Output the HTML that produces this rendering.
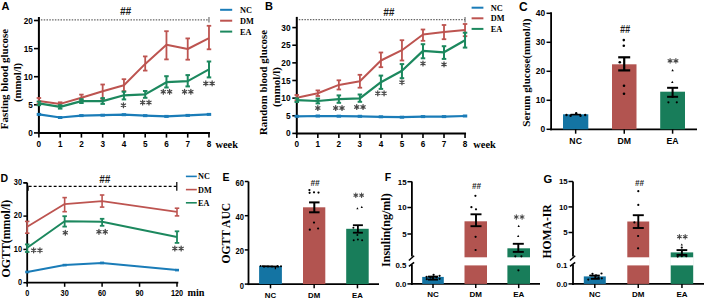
<!DOCTYPE html>
<html><head><meta charset="utf-8"><style>
html,body{margin:0;padding:0;background:#fff;width:704px;height:298px;overflow:hidden}
svg{display:block}
</style></head><body>
<svg width="704" height="298" viewBox="0 0 704 298">
<rect width="704" height="298" fill="#fff"/>
<text x="1.5" y="10" font-family='"Liberation Sans", sans-serif' font-size="11" font-weight="bold" text-anchor="start" fill="#000" >A</text>
<line x1="40.9" y1="19.9" x2="208.98" y2="19.9" stroke="#666" stroke-width="1.2" stroke-dasharray="1.5 1.3"/>
<line x1="208.98" y1="17" x2="208.98" y2="22.5" stroke="#555" stroke-width="1" />
<text x="120.05" y="15.4" font-family='"Liberation Sans", sans-serif' font-size="11.18" font-weight="bold" font-style="italic" fill="#1a1a1a" textLength="11.1" lengthAdjust="spacingAndGlyphs">##</text>
<line x1="38.9" y1="17" x2="38.9" y2="133.9" stroke="#000" stroke-width="2" />
<line x1="37.9" y1="132.9" x2="209.98" y2="132.9" stroke="#000" stroke-width="2" />
<line x1="34" y1="132.9" x2="38.9" y2="132.9" stroke="#000" stroke-width="1.6" />
<text x="32.8" y="135.9" font-family='"Liberation Sans", sans-serif' font-size="8.2" font-weight="bold" text-anchor="end" fill="#000" >0</text>
<line x1="34" y1="104.8" x2="38.9" y2="104.8" stroke="#000" stroke-width="1.6" />
<text x="32.8" y="107.8" font-family='"Liberation Sans", sans-serif' font-size="8.2" font-weight="bold" text-anchor="end" fill="#000" >5</text>
<line x1="34" y1="76.7" x2="38.9" y2="76.7" stroke="#000" stroke-width="1.6" />
<text x="32.8" y="79.7" font-family='"Liberation Sans", sans-serif' font-size="8.2" font-weight="bold" text-anchor="end" fill="#000" >10</text>
<line x1="34" y1="48.6" x2="38.9" y2="48.6" stroke="#000" stroke-width="1.6" />
<text x="32.8" y="51.6" font-family='"Liberation Sans", sans-serif' font-size="8.2" font-weight="bold" text-anchor="end" fill="#000" >15</text>
<line x1="34" y1="20.5" x2="38.9" y2="20.5" stroke="#000" stroke-width="1.6" />
<text x="32.8" y="23.5" font-family='"Liberation Sans", sans-serif' font-size="8.2" font-weight="bold" text-anchor="end" fill="#000" >20</text>
<line x1="38.9" y1="132.9" x2="38.9" y2="137.6" stroke="#000" stroke-width="1.6" />
<text x="38.9" y="147" font-family='"Liberation Sans", sans-serif' font-size="8.2" font-weight="bold" text-anchor="middle" fill="#000" >0</text>
<line x1="60.16" y1="132.9" x2="60.16" y2="137.6" stroke="#000" stroke-width="1.6" />
<text x="60.16" y="147" font-family='"Liberation Sans", sans-serif' font-size="8.2" font-weight="bold" text-anchor="middle" fill="#000" >1</text>
<line x1="81.42" y1="132.9" x2="81.42" y2="137.6" stroke="#000" stroke-width="1.6" />
<text x="81.42" y="147" font-family='"Liberation Sans", sans-serif' font-size="8.2" font-weight="bold" text-anchor="middle" fill="#000" >2</text>
<line x1="102.68" y1="132.9" x2="102.68" y2="137.6" stroke="#000" stroke-width="1.6" />
<text x="102.68" y="147" font-family='"Liberation Sans", sans-serif' font-size="8.2" font-weight="bold" text-anchor="middle" fill="#000" >3</text>
<line x1="123.94" y1="132.9" x2="123.94" y2="137.6" stroke="#000" stroke-width="1.6" />
<text x="123.94" y="147" font-family='"Liberation Sans", sans-serif' font-size="8.2" font-weight="bold" text-anchor="middle" fill="#000" >4</text>
<line x1="145.2" y1="132.9" x2="145.2" y2="137.6" stroke="#000" stroke-width="1.6" />
<text x="145.2" y="147" font-family='"Liberation Sans", sans-serif' font-size="8.2" font-weight="bold" text-anchor="middle" fill="#000" >5</text>
<line x1="166.46" y1="132.9" x2="166.46" y2="137.6" stroke="#000" stroke-width="1.6" />
<text x="166.46" y="147" font-family='"Liberation Sans", sans-serif' font-size="8.2" font-weight="bold" text-anchor="middle" fill="#000" >6</text>
<line x1="187.72" y1="132.9" x2="187.72" y2="137.6" stroke="#000" stroke-width="1.6" />
<text x="187.72" y="147" font-family='"Liberation Sans", sans-serif' font-size="8.2" font-weight="bold" text-anchor="middle" fill="#000" >7</text>
<line x1="208.98" y1="132.9" x2="208.98" y2="137.6" stroke="#000" stroke-width="1.6" />
<text x="208.98" y="147" font-family='"Liberation Sans", sans-serif' font-size="8.2" font-weight="bold" text-anchor="middle" fill="#000" >8</text>
<text x="215.5" y="147.5" font-family='"Liberation Serif", serif' font-size="10.4" font-weight="bold" text-anchor="start" fill="#000" >week</text>
<text transform="translate(4.5,79) rotate(-90)" x="0" y="0" dy="0.35em" font-family='"Liberation Serif", serif' font-size="10.95" font-weight="bold" text-anchor="middle" fill="#000">Fasting blood glucose</text>
<text transform="translate(17.6,82.4) rotate(-90)" x="0" y="0" dy="0.35em" font-family='"Liberation Serif", serif' font-size="10.7" font-weight="bold" text-anchor="middle" fill="#000">(mmol/l)</text>
<polyline points="38.9,101.1 60.16,103.9 81.42,97.8 102.68,91.3 123.94,85.2 145.2,63.9 166.46,44.8 187.72,49 208.98,38.1" fill="none" stroke="#bd5450" stroke-width="2" stroke-linejoin="round"/>
<line x1="38.9" y1="98" x2="38.9" y2="104" stroke="#bd5450" stroke-width="1.8" />
<line x1="36.65" y1="98" x2="41.15" y2="98" stroke="#bd5450" stroke-width="1.8" />
<line x1="36.65" y1="104" x2="41.15" y2="104" stroke="#bd5450" stroke-width="1.8" />
<line x1="60.16" y1="102.3" x2="60.16" y2="105.9" stroke="#bd5450" stroke-width="1.8" />
<line x1="57.91" y1="102.3" x2="62.41" y2="102.3" stroke="#bd5450" stroke-width="1.8" />
<line x1="57.91" y1="105.9" x2="62.41" y2="105.9" stroke="#bd5450" stroke-width="1.8" />
<line x1="81.42" y1="94.6" x2="81.42" y2="100.4" stroke="#bd5450" stroke-width="1.8" />
<line x1="79.17" y1="94.6" x2="83.67" y2="94.6" stroke="#bd5450" stroke-width="1.8" />
<line x1="79.17" y1="100.4" x2="83.67" y2="100.4" stroke="#bd5450" stroke-width="1.8" />
<line x1="102.68" y1="84.5" x2="102.68" y2="98.9" stroke="#bd5450" stroke-width="1.8" />
<line x1="100.43" y1="84.5" x2="104.93" y2="84.5" stroke="#bd5450" stroke-width="1.8" />
<line x1="100.43" y1="98.9" x2="104.93" y2="98.9" stroke="#bd5450" stroke-width="1.8" />
<line x1="123.94" y1="79.2" x2="123.94" y2="91.2" stroke="#bd5450" stroke-width="1.8" />
<line x1="121.69" y1="79.2" x2="126.19" y2="79.2" stroke="#bd5450" stroke-width="1.8" />
<line x1="121.69" y1="91.2" x2="126.19" y2="91.2" stroke="#bd5450" stroke-width="1.8" />
<line x1="145.2" y1="56.4" x2="145.2" y2="70.6" stroke="#bd5450" stroke-width="1.8" />
<line x1="142.95" y1="56.4" x2="147.45" y2="56.4" stroke="#bd5450" stroke-width="1.8" />
<line x1="142.95" y1="70.6" x2="147.45" y2="70.6" stroke="#bd5450" stroke-width="1.8" />
<line x1="166.46" y1="31.2" x2="166.46" y2="59.4" stroke="#bd5450" stroke-width="1.8" />
<line x1="164.21" y1="31.2" x2="168.71" y2="31.2" stroke="#bd5450" stroke-width="1.8" />
<line x1="164.21" y1="59.4" x2="168.71" y2="59.4" stroke="#bd5450" stroke-width="1.8" />
<line x1="187.72" y1="38.4" x2="187.72" y2="59.7" stroke="#bd5450" stroke-width="1.8" />
<line x1="185.47" y1="38.4" x2="189.97" y2="38.4" stroke="#bd5450" stroke-width="1.8" />
<line x1="185.47" y1="59.7" x2="189.97" y2="59.7" stroke="#bd5450" stroke-width="1.8" />
<line x1="208.98" y1="25.8" x2="208.98" y2="49.3" stroke="#bd5450" stroke-width="1.8" />
<line x1="206.73" y1="25.8" x2="211.23" y2="25.8" stroke="#bd5450" stroke-width="1.8" />
<line x1="206.73" y1="49.3" x2="211.23" y2="49.3" stroke="#bd5450" stroke-width="1.8" />
<polyline points="38.9,103.4 60.16,106.9 81.42,101.1 102.68,101.1 123.94,95.3 145.2,94.4 166.46,82.2 187.72,81.1 208.98,69.4" fill="none" stroke="#1c885e" stroke-width="2.2" stroke-linejoin="round"/>
<line x1="38.9" y1="101.6" x2="38.9" y2="105.2" stroke="#1c885e" stroke-width="2" />
<line x1="36.65" y1="101.6" x2="41.15" y2="101.6" stroke="#1c885e" stroke-width="2" />
<line x1="36.65" y1="105.2" x2="41.15" y2="105.2" stroke="#1c885e" stroke-width="2" />
<line x1="60.16" y1="105.2" x2="60.16" y2="108.6" stroke="#1c885e" stroke-width="2" />
<line x1="57.91" y1="105.2" x2="62.41" y2="105.2" stroke="#1c885e" stroke-width="2" />
<line x1="57.91" y1="108.6" x2="62.41" y2="108.6" stroke="#1c885e" stroke-width="2" />
<line x1="81.42" y1="99.2" x2="81.42" y2="103" stroke="#1c885e" stroke-width="2" />
<line x1="79.17" y1="99.2" x2="83.67" y2="99.2" stroke="#1c885e" stroke-width="2" />
<line x1="79.17" y1="103" x2="83.67" y2="103" stroke="#1c885e" stroke-width="2" />
<line x1="102.68" y1="98.1" x2="102.68" y2="103.9" stroke="#1c885e" stroke-width="2" />
<line x1="100.43" y1="98.1" x2="104.93" y2="98.1" stroke="#1c885e" stroke-width="2" />
<line x1="100.43" y1="103.9" x2="104.93" y2="103.9" stroke="#1c885e" stroke-width="2" />
<line x1="123.94" y1="91.7" x2="123.94" y2="99.4" stroke="#1c885e" stroke-width="2" />
<line x1="121.69" y1="91.7" x2="126.19" y2="91.7" stroke="#1c885e" stroke-width="2" />
<line x1="121.69" y1="99.4" x2="126.19" y2="99.4" stroke="#1c885e" stroke-width="2" />
<line x1="145.2" y1="91" x2="145.2" y2="97.8" stroke="#1c885e" stroke-width="2" />
<line x1="142.95" y1="91" x2="147.45" y2="91" stroke="#1c885e" stroke-width="2" />
<line x1="142.95" y1="97.8" x2="147.45" y2="97.8" stroke="#1c885e" stroke-width="2" />
<line x1="166.46" y1="76.2" x2="166.46" y2="87.5" stroke="#1c885e" stroke-width="2" />
<line x1="164.21" y1="76.2" x2="168.71" y2="76.2" stroke="#1c885e" stroke-width="2" />
<line x1="164.21" y1="87.5" x2="168.71" y2="87.5" stroke="#1c885e" stroke-width="2" />
<line x1="187.72" y1="75.1" x2="187.72" y2="86.4" stroke="#1c885e" stroke-width="2" />
<line x1="185.47" y1="75.1" x2="189.97" y2="75.1" stroke="#1c885e" stroke-width="2" />
<line x1="185.47" y1="86.4" x2="189.97" y2="86.4" stroke="#1c885e" stroke-width="2" />
<line x1="208.98" y1="61.5" x2="208.98" y2="77.4" stroke="#1c885e" stroke-width="2" />
<line x1="206.73" y1="61.5" x2="211.23" y2="61.5" stroke="#1c885e" stroke-width="2" />
<line x1="206.73" y1="77.4" x2="211.23" y2="77.4" stroke="#1c885e" stroke-width="2" />
<polyline points="38.9,114.4 60.16,117.5 81.42,115.6 102.68,115.2 123.94,114.7 145.2,115.65 166.46,116.4 187.72,115.4 208.98,114.4" fill="none" stroke="#1a7cb8" stroke-width="2.2" stroke-linejoin="round"/>
<line x1="36.7" y1="114.4" x2="41.1" y2="114.4" stroke="#1a7cb8" stroke-width="3" />
<line x1="57.96" y1="117.5" x2="62.36" y2="117.5" stroke="#1a7cb8" stroke-width="3" />
<line x1="79.22" y1="115.6" x2="83.62" y2="115.6" stroke="#1a7cb8" stroke-width="3" />
<line x1="100.48" y1="115.2" x2="104.88" y2="115.2" stroke="#1a7cb8" stroke-width="3" />
<line x1="121.74" y1="114.7" x2="126.14" y2="114.7" stroke="#1a7cb8" stroke-width="3" />
<line x1="143" y1="115.65" x2="147.4" y2="115.65" stroke="#1a7cb8" stroke-width="3" />
<line x1="164.26" y1="116.4" x2="168.66" y2="116.4" stroke="#1a7cb8" stroke-width="3" />
<line x1="185.52" y1="115.4" x2="189.92" y2="115.4" stroke="#1a7cb8" stroke-width="3" />
<line x1="206.78" y1="114.4" x2="211.18" y2="114.4" stroke="#1a7cb8" stroke-width="3" />
<path d="M123.44,102.75L123.44,107.65M121.32,103.98L125.56,106.42M125.56,103.98L121.32,106.42" stroke="#474747" stroke-width="1.25" stroke-linecap="round" fill="none"/>
<path d="M142.65,100.05L142.65,104.95M140.53,101.28L144.77,103.72M144.77,101.28L140.53,103.72M148.95,100.05L148.95,104.95M146.83,101.28L151.07,103.72M151.07,101.28L146.83,103.72" stroke="#474747" stroke-width="1.25" stroke-linecap="round" fill="none"/>
<path d="M163.31,89.25L163.31,94.15M161.19,90.48L165.43,92.92M165.43,90.48L161.19,92.92M169.61,89.25L169.61,94.15M167.49,90.48L171.73,92.92M171.73,90.48L167.49,92.92" stroke="#474747" stroke-width="1.25" stroke-linecap="round" fill="none"/>
<path d="M184.57,89.25L184.57,94.15M182.45,90.48L186.69,92.92M186.69,90.48L182.45,92.92M190.87,89.25L190.87,94.15M188.75,90.48L192.99,92.92M192.99,90.48L188.75,92.92" stroke="#474747" stroke-width="1.25" stroke-linecap="round" fill="none"/>
<path d="M205.83,80.95L205.83,85.85M203.71,82.18L207.95,84.62M207.95,82.18L203.71,84.62M212.13,80.95L212.13,85.85M210.01,82.18L214.25,84.62M214.25,82.18L210.01,84.62" stroke="#474747" stroke-width="1.25" stroke-linecap="round" fill="none"/>
<line x1="220.1" y1="9.8" x2="232.2" y2="9.8" stroke="#1a7cb8" stroke-width="2" />
<text x="239.9" y="13.1" font-family='"Liberation Serif", serif' font-size="8.3" font-weight="bold" text-anchor="start" fill="#000" >NC</text>
<line x1="220.1" y1="20.7" x2="232.2" y2="20.7" stroke="#bd5450" stroke-width="2" />
<text x="239.9" y="24" font-family='"Liberation Serif", serif' font-size="8.3" font-weight="bold" text-anchor="start" fill="#000" >DM</text>
<line x1="220.1" y1="31.6" x2="232.2" y2="31.6" stroke="#1c885e" stroke-width="2" />
<text x="239.9" y="34.9" font-family='"Liberation Serif", serif' font-size="8.3" font-weight="bold" text-anchor="start" fill="#000" >EA</text>
<text x="265" y="10" font-family='"Liberation Sans", sans-serif' font-size="11" font-weight="bold" text-anchor="start" fill="#000" >B</text>
<line x1="298.8" y1="19.7" x2="465.04" y2="19.7" stroke="#666" stroke-width="1.2" stroke-dasharray="1.5 1.3"/>
<line x1="465.04" y1="17" x2="465.04" y2="22.5" stroke="#555" stroke-width="1" />
<text x="383.25" y="15.9" font-family='"Liberation Sans", sans-serif' font-size="11.18" font-weight="bold" font-style="italic" fill="#1a1a1a" textLength="11.1" lengthAdjust="spacingAndGlyphs">##</text>
<line x1="296.8" y1="16.9" x2="296.8" y2="134.4" stroke="#000" stroke-width="2" />
<line x1="295.8" y1="133.4" x2="466.04" y2="133.4" stroke="#000" stroke-width="2" />
<line x1="292.3" y1="133.4" x2="296.8" y2="133.4" stroke="#000" stroke-width="1.6" />
<text x="290.6" y="136.4" font-family='"Liberation Sans", sans-serif' font-size="8.3" font-weight="bold" text-anchor="end" fill="#000" >0</text>
<line x1="292.3" y1="115.77" x2="296.8" y2="115.77" stroke="#000" stroke-width="1.6" />
<text x="290.6" y="118.77" font-family='"Liberation Sans", sans-serif' font-size="8.3" font-weight="bold" text-anchor="end" fill="#000" >5</text>
<line x1="292.3" y1="98.13" x2="296.8" y2="98.13" stroke="#000" stroke-width="1.6" />
<text x="290.6" y="101.13" font-family='"Liberation Sans", sans-serif' font-size="8.3" font-weight="bold" text-anchor="end" fill="#000" >10</text>
<line x1="292.3" y1="80.5" x2="296.8" y2="80.5" stroke="#000" stroke-width="1.6" />
<text x="290.6" y="83.5" font-family='"Liberation Sans", sans-serif' font-size="8.3" font-weight="bold" text-anchor="end" fill="#000" >15</text>
<line x1="292.3" y1="62.86" x2="296.8" y2="62.86" stroke="#000" stroke-width="1.6" />
<text x="290.6" y="65.86" font-family='"Liberation Sans", sans-serif' font-size="8.3" font-weight="bold" text-anchor="end" fill="#000" >20</text>
<line x1="292.3" y1="45.23" x2="296.8" y2="45.23" stroke="#000" stroke-width="1.6" />
<text x="290.6" y="48.23" font-family='"Liberation Sans", sans-serif' font-size="8.3" font-weight="bold" text-anchor="end" fill="#000" >25</text>
<line x1="292.3" y1="27.59" x2="296.8" y2="27.59" stroke="#000" stroke-width="1.6" />
<text x="290.6" y="30.59" font-family='"Liberation Sans", sans-serif' font-size="8.3" font-weight="bold" text-anchor="end" fill="#000" >30</text>
<line x1="296.8" y1="133.4" x2="296.8" y2="138" stroke="#000" stroke-width="1.6" />
<text x="296.8" y="147.2" font-family='"Liberation Sans", sans-serif' font-size="8.2" font-weight="bold" text-anchor="middle" fill="#000" >0</text>
<line x1="317.83" y1="133.4" x2="317.83" y2="138" stroke="#000" stroke-width="1.6" />
<text x="317.83" y="147.2" font-family='"Liberation Sans", sans-serif' font-size="8.2" font-weight="bold" text-anchor="middle" fill="#000" >1</text>
<line x1="338.86" y1="133.4" x2="338.86" y2="138" stroke="#000" stroke-width="1.6" />
<text x="338.86" y="147.2" font-family='"Liberation Sans", sans-serif' font-size="8.2" font-weight="bold" text-anchor="middle" fill="#000" >2</text>
<line x1="359.89" y1="133.4" x2="359.89" y2="138" stroke="#000" stroke-width="1.6" />
<text x="359.89" y="147.2" font-family='"Liberation Sans", sans-serif' font-size="8.2" font-weight="bold" text-anchor="middle" fill="#000" >3</text>
<line x1="380.92" y1="133.4" x2="380.92" y2="138" stroke="#000" stroke-width="1.6" />
<text x="380.92" y="147.2" font-family='"Liberation Sans", sans-serif' font-size="8.2" font-weight="bold" text-anchor="middle" fill="#000" >4</text>
<line x1="401.95" y1="133.4" x2="401.95" y2="138" stroke="#000" stroke-width="1.6" />
<text x="401.95" y="147.2" font-family='"Liberation Sans", sans-serif' font-size="8.2" font-weight="bold" text-anchor="middle" fill="#000" >5</text>
<line x1="422.98" y1="133.4" x2="422.98" y2="138" stroke="#000" stroke-width="1.6" />
<text x="422.98" y="147.2" font-family='"Liberation Sans", sans-serif' font-size="8.2" font-weight="bold" text-anchor="middle" fill="#000" >6</text>
<line x1="444.01" y1="133.4" x2="444.01" y2="138" stroke="#000" stroke-width="1.6" />
<text x="444.01" y="147.2" font-family='"Liberation Sans", sans-serif' font-size="8.2" font-weight="bold" text-anchor="middle" fill="#000" >7</text>
<line x1="465.04" y1="133.4" x2="465.04" y2="138" stroke="#000" stroke-width="1.6" />
<text x="465.04" y="147.2" font-family='"Liberation Sans", sans-serif' font-size="8.2" font-weight="bold" text-anchor="middle" fill="#000" >8</text>
<text x="473.3" y="147.5" font-family='"Liberation Serif", serif' font-size="10.4" font-weight="bold" text-anchor="start" fill="#000" >week</text>
<text transform="translate(263.6,82.5) rotate(-90)" x="0" y="0" dy="0.35em" font-family='"Liberation Serif", serif' font-size="10.87" font-weight="bold" text-anchor="middle" fill="#000">Random blood glucose</text>
<text transform="translate(275.9,87.1) rotate(-90)" x="0" y="0" dy="0.35em" font-family='"Liberation Serif", serif' font-size="10.9" font-weight="bold" text-anchor="middle" fill="#000">(mmol/l)</text>
<polyline points="296.8,97.8 317.83,93.2 338.86,84.9 359.89,81.2 380.92,60.5 401.95,50.2 422.98,34.5 444.01,32.1 465.04,30.1" fill="none" stroke="#bd5450" stroke-width="2" stroke-linejoin="round"/>
<line x1="296.8" y1="95" x2="296.8" y2="100.6" stroke="#bd5450" stroke-width="1.8" />
<line x1="294.55" y1="95" x2="299.05" y2="95" stroke="#bd5450" stroke-width="1.8" />
<line x1="294.55" y1="100.6" x2="299.05" y2="100.6" stroke="#bd5450" stroke-width="1.8" />
<line x1="317.83" y1="90.4" x2="317.83" y2="96" stroke="#bd5450" stroke-width="1.8" />
<line x1="315.58" y1="90.4" x2="320.08" y2="90.4" stroke="#bd5450" stroke-width="1.8" />
<line x1="315.58" y1="96" x2="320.08" y2="96" stroke="#bd5450" stroke-width="1.8" />
<line x1="338.86" y1="80.3" x2="338.86" y2="89.5" stroke="#bd5450" stroke-width="1.8" />
<line x1="336.61" y1="80.3" x2="341.11" y2="80.3" stroke="#bd5450" stroke-width="1.8" />
<line x1="336.61" y1="89.5" x2="341.11" y2="89.5" stroke="#bd5450" stroke-width="1.8" />
<line x1="359.89" y1="74.8" x2="359.89" y2="87.7" stroke="#bd5450" stroke-width="1.8" />
<line x1="357.64" y1="74.8" x2="362.14" y2="74.8" stroke="#bd5450" stroke-width="1.8" />
<line x1="357.64" y1="87.7" x2="362.14" y2="87.7" stroke="#bd5450" stroke-width="1.8" />
<line x1="380.92" y1="52.5" x2="380.92" y2="67.2" stroke="#bd5450" stroke-width="1.8" />
<line x1="378.67" y1="52.5" x2="383.17" y2="52.5" stroke="#bd5450" stroke-width="1.8" />
<line x1="378.67" y1="67.2" x2="383.17" y2="67.2" stroke="#bd5450" stroke-width="1.8" />
<line x1="401.95" y1="40.2" x2="401.95" y2="60.5" stroke="#bd5450" stroke-width="1.8" />
<line x1="399.7" y1="40.2" x2="404.2" y2="40.2" stroke="#bd5450" stroke-width="1.8" />
<line x1="399.7" y1="60.5" x2="404.2" y2="60.5" stroke="#bd5450" stroke-width="1.8" />
<line x1="422.98" y1="29.5" x2="422.98" y2="40.8" stroke="#bd5450" stroke-width="1.8" />
<line x1="420.73" y1="29.5" x2="425.23" y2="29.5" stroke="#bd5450" stroke-width="1.8" />
<line x1="420.73" y1="40.8" x2="425.23" y2="40.8" stroke="#bd5450" stroke-width="1.8" />
<line x1="444.01" y1="25" x2="444.01" y2="39.2" stroke="#bd5450" stroke-width="1.8" />
<line x1="441.76" y1="25" x2="446.26" y2="25" stroke="#bd5450" stroke-width="1.8" />
<line x1="441.76" y1="39.2" x2="446.26" y2="39.2" stroke="#bd5450" stroke-width="1.8" />
<line x1="465.04" y1="24" x2="465.04" y2="36.2" stroke="#bd5450" stroke-width="1.8" />
<line x1="462.79" y1="24" x2="467.29" y2="24" stroke="#bd5450" stroke-width="1.8" />
<line x1="462.79" y1="36.2" x2="467.29" y2="36.2" stroke="#bd5450" stroke-width="1.8" />
<polyline points="296.8,100.2 317.83,101 338.86,99.1 359.89,98.4 380.92,82.2 401.95,70.8 422.98,50.9 444.01,52.3 465.04,40.2" fill="none" stroke="#1c885e" stroke-width="2.2" stroke-linejoin="round"/>
<line x1="296.8" y1="98.4" x2="296.8" y2="102" stroke="#1c885e" stroke-width="2" />
<line x1="294.55" y1="98.4" x2="299.05" y2="98.4" stroke="#1c885e" stroke-width="2" />
<line x1="294.55" y1="102" x2="299.05" y2="102" stroke="#1c885e" stroke-width="2" />
<line x1="317.83" y1="98.6" x2="317.83" y2="103.4" stroke="#1c885e" stroke-width="2" />
<line x1="315.58" y1="98.6" x2="320.08" y2="98.6" stroke="#1c885e" stroke-width="2" />
<line x1="315.58" y1="103.4" x2="320.08" y2="103.4" stroke="#1c885e" stroke-width="2" />
<line x1="338.86" y1="95.4" x2="338.86" y2="102.8" stroke="#1c885e" stroke-width="2" />
<line x1="336.61" y1="95.4" x2="341.11" y2="95.4" stroke="#1c885e" stroke-width="2" />
<line x1="336.61" y1="102.8" x2="341.11" y2="102.8" stroke="#1c885e" stroke-width="2" />
<line x1="359.89" y1="94.5" x2="359.89" y2="101.8" stroke="#1c885e" stroke-width="2" />
<line x1="357.64" y1="94.5" x2="362.14" y2="94.5" stroke="#1c885e" stroke-width="2" />
<line x1="357.64" y1="101.8" x2="362.14" y2="101.8" stroke="#1c885e" stroke-width="2" />
<line x1="380.92" y1="75.6" x2="380.92" y2="88.9" stroke="#1c885e" stroke-width="2" />
<line x1="378.67" y1="75.6" x2="383.17" y2="75.6" stroke="#1c885e" stroke-width="2" />
<line x1="378.67" y1="88.9" x2="383.17" y2="88.9" stroke="#1c885e" stroke-width="2" />
<line x1="401.95" y1="64.1" x2="401.95" y2="78.2" stroke="#1c885e" stroke-width="2" />
<line x1="399.7" y1="64.1" x2="404.2" y2="64.1" stroke="#1c885e" stroke-width="2" />
<line x1="399.7" y1="78.2" x2="404.2" y2="78.2" stroke="#1c885e" stroke-width="2" />
<line x1="422.98" y1="44.2" x2="422.98" y2="58.3" stroke="#1c885e" stroke-width="2" />
<line x1="420.73" y1="44.2" x2="425.23" y2="44.2" stroke="#1c885e" stroke-width="2" />
<line x1="420.73" y1="58.3" x2="425.23" y2="58.3" stroke="#1c885e" stroke-width="2" />
<line x1="444.01" y1="46.2" x2="444.01" y2="58.9" stroke="#1c885e" stroke-width="2" />
<line x1="441.76" y1="46.2" x2="446.26" y2="46.2" stroke="#1c885e" stroke-width="2" />
<line x1="441.76" y1="58.9" x2="446.26" y2="58.9" stroke="#1c885e" stroke-width="2" />
<line x1="465.04" y1="32.7" x2="465.04" y2="47.6" stroke="#1c885e" stroke-width="2" />
<line x1="462.79" y1="32.7" x2="467.29" y2="32.7" stroke="#1c885e" stroke-width="2" />
<line x1="462.79" y1="47.6" x2="467.29" y2="47.6" stroke="#1c885e" stroke-width="2" />
<polyline points="296.8,116.3 317.83,116 338.86,116.2 359.89,116.3 380.92,116.8 401.95,117.2 422.98,116.6 444.01,116.6 465.04,116" fill="none" stroke="#1a7cb8" stroke-width="2.2" stroke-linejoin="round"/>
<line x1="294.6" y1="116.3" x2="299" y2="116.3" stroke="#1a7cb8" stroke-width="3" />
<line x1="315.63" y1="116" x2="320.03" y2="116" stroke="#1a7cb8" stroke-width="3" />
<line x1="336.66" y1="116.2" x2="341.06" y2="116.2" stroke="#1a7cb8" stroke-width="3" />
<line x1="357.69" y1="116.3" x2="362.09" y2="116.3" stroke="#1a7cb8" stroke-width="3" />
<line x1="378.72" y1="116.8" x2="383.12" y2="116.8" stroke="#1a7cb8" stroke-width="3" />
<line x1="399.75" y1="117.2" x2="404.15" y2="117.2" stroke="#1a7cb8" stroke-width="3" />
<line x1="420.78" y1="116.6" x2="425.18" y2="116.6" stroke="#1a7cb8" stroke-width="3" />
<line x1="441.81" y1="116.6" x2="446.21" y2="116.6" stroke="#1a7cb8" stroke-width="3" />
<line x1="462.84" y1="116" x2="467.24" y2="116" stroke="#1a7cb8" stroke-width="3" />
<path d="M317.83,105.55L317.83,110.45M315.71,106.78L319.95,109.22M319.95,106.78L315.71,109.22" stroke="#474747" stroke-width="1.25" stroke-linecap="round" fill="none"/>
<path d="M335.71,105.55L335.71,110.45M333.59,106.78L337.83,109.22M337.83,106.78L333.59,109.22M342.01,105.55L342.01,110.45M339.89,106.78L344.13,109.22M344.13,106.78L339.89,109.22" stroke="#474747" stroke-width="1.25" stroke-linecap="round" fill="none"/>
<path d="M356.74,104.55L356.74,109.45M354.62,105.78L358.86,108.22M358.86,105.78L354.62,108.22M363.04,104.55L363.04,109.45M360.92,105.78L365.16,108.22M365.16,105.78L360.92,108.22" stroke="#474747" stroke-width="1.25" stroke-linecap="round" fill="none"/>
<path d="M377.77,90.85L377.77,95.75M375.65,92.08L379.89,94.52M379.89,92.08L375.65,94.52M384.07,90.85L384.07,95.75M381.95,92.08L386.19,94.52M386.19,92.08L381.95,94.52" stroke="#474747" stroke-width="1.25" stroke-linecap="round" fill="none"/>
<path d="M401.95,79.75L401.95,84.65M399.83,80.98L404.07,83.42M404.07,80.98L399.83,83.42" stroke="#474747" stroke-width="1.25" stroke-linecap="round" fill="none"/>
<path d="M422.98,61.05L422.98,65.95M420.86,62.27L425.1,64.72M425.1,62.27L420.86,64.72" stroke="#474747" stroke-width="1.25" stroke-linecap="round" fill="none"/>
<path d="M444.01,61.95L444.01,66.85M441.89,63.18L446.13,65.62M446.13,63.18L441.89,65.62" stroke="#474747" stroke-width="1.25" stroke-linecap="round" fill="none"/>
<line x1="471.6" y1="7.7" x2="483.4" y2="7.7" stroke="#1a7cb8" stroke-width="2" />
<text x="490.8" y="10.8" font-family='"Liberation Serif", serif' font-size="8.3" font-weight="bold" text-anchor="start" fill="#000" >NC</text>
<line x1="471.6" y1="18.3" x2="483.4" y2="18.3" stroke="#bd5450" stroke-width="2" />
<text x="490.8" y="21.4" font-family='"Liberation Serif", serif' font-size="8.3" font-weight="bold" text-anchor="start" fill="#000" >DM</text>
<line x1="471.6" y1="28.9" x2="483.4" y2="28.9" stroke="#1c885e" stroke-width="2" />
<text x="490.8" y="32" font-family='"Liberation Serif", serif' font-size="8.3" font-weight="bold" text-anchor="start" fill="#000" >EA</text>
<text x="519" y="11.4" font-family='"Liberation Sans", sans-serif' font-size="12" font-weight="bold" text-anchor="start" fill="#000" >C</text>
<line x1="551.1" y1="12.3" x2="551.1" y2="130.3" stroke="#000" stroke-width="1.8" />
<line x1="550.1" y1="129.3" x2="697" y2="129.3" stroke="#000" stroke-width="1.8" />
<line x1="546.5" y1="129.3" x2="551.1" y2="129.3" stroke="#000" stroke-width="1.5" />
<text x="545.2" y="132.2" font-family='"Liberation Sans", sans-serif' font-size="8.4" font-weight="bold" text-anchor="end" fill="#000" >0</text>
<line x1="546.5" y1="100.3" x2="551.1" y2="100.3" stroke="#000" stroke-width="1.5" />
<text x="545.2" y="103.2" font-family='"Liberation Sans", sans-serif' font-size="8.4" font-weight="bold" text-anchor="end" fill="#000" >10</text>
<line x1="546.5" y1="71.3" x2="551.1" y2="71.3" stroke="#000" stroke-width="1.5" />
<text x="545.2" y="74.2" font-family='"Liberation Sans", sans-serif' font-size="8.4" font-weight="bold" text-anchor="end" fill="#000" >20</text>
<line x1="546.5" y1="42.3" x2="551.1" y2="42.3" stroke="#000" stroke-width="1.5" />
<text x="545.2" y="45.2" font-family='"Liberation Sans", sans-serif' font-size="8.4" font-weight="bold" text-anchor="end" fill="#000" >30</text>
<line x1="546.5" y1="13.3" x2="551.1" y2="13.3" stroke="#000" stroke-width="1.5" />
<text x="545.2" y="16.2" font-family='"Liberation Sans", sans-serif' font-size="8.4" font-weight="bold" text-anchor="end" fill="#000" >40</text>
<text transform="translate(525.9,72.6) rotate(-90)" x="0" y="0" dy="0.35em" font-family='"Liberation Serif", serif' font-size="10.97" font-weight="bold" text-anchor="middle" fill="#000">Serum glucose(mmol/l)</text>
<rect x="563" y="114.3" width="25.3" height="15" fill="#1474a3"/>
<line x1="575.65" y1="129.3" x2="575.65" y2="133.7" stroke="#000" stroke-width="1.5" />
<text x="575.65" y="144.2" font-family='"Liberation Sans", sans-serif' font-size="8.7" font-weight="bold" text-anchor="middle" fill="#000" >NC</text>
<rect x="612" y="64.3" width="24.5" height="65" fill="#b25450"/>
<line x1="624.25" y1="129.3" x2="624.25" y2="133.7" stroke="#000" stroke-width="1.5" />
<text x="624.25" y="144.2" font-family='"Liberation Sans", sans-serif' font-size="8.7" font-weight="bold" text-anchor="middle" fill="#000" >DM</text>
<rect x="660.2" y="91.7" width="24.8" height="37.6" fill="#187d5a"/>
<line x1="672.6" y1="129.3" x2="672.6" y2="133.7" stroke="#000" stroke-width="1.5" />
<text x="672.6" y="144.2" font-family='"Liberation Sans", sans-serif' font-size="8.7" font-weight="bold" text-anchor="middle" fill="#000" >EA</text>
<line x1="624.2" y1="57.3" x2="624.2" y2="70.4" stroke="#000" stroke-width="2.2" />
<line x1="618.2" y1="57.3" x2="630.2" y2="57.3" stroke="#000" stroke-width="2.2" />
<line x1="618.2" y1="70.4" x2="630.2" y2="70.4" stroke="#000" stroke-width="2.2" />
<line x1="672.6" y1="87.8" x2="672.6" y2="96.8" stroke="#000" stroke-width="2.0" />
<line x1="667.1" y1="87.8" x2="678.1" y2="87.8" stroke="#000" stroke-width="2.0" />
<line x1="667.1" y1="96.8" x2="678.1" y2="96.8" stroke="#000" stroke-width="2.0" />
<line x1="570.5" y1="114.6" x2="581" y2="114.6" stroke="#000" stroke-width="1.6" />
<text x="619.95" y="32.9" font-family='"Liberation Sans", sans-serif' font-size="10.17" font-weight="bold" font-style="italic" fill="#1a1a1a" textLength="10.1" lengthAdjust="spacingAndGlyphs">##</text>
<path d="M670.1,58.5L670.1,63.1M668.11,59.65L672.09,61.95M672.09,59.65L668.11,61.95M675.9,58.5L675.9,63.1M673.91,59.65L677.89,61.95M677.89,59.65L673.91,61.95" stroke="#474747" stroke-width="1.1" stroke-linecap="round" fill="none"/>
<circle cx="623.8" cy="40.1" r="1.3" fill="#000"/>
<circle cx="623.8" cy="45.8" r="1.3" fill="#000"/>
<circle cx="619.8" cy="62.3" r="1.3" fill="#000"/>
<circle cx="624" cy="85.7" r="1.3" fill="#000"/>
<circle cx="624" cy="93.8" r="1.3" fill="#000"/>
<polygon points="672.6,68.98 671.39,71.29 673.81,71.29" fill="#000"/>
<polygon points="672.3,80.68 671.09,82.99 673.51,82.99" fill="#000"/>
<circle cx="668.4" cy="102.3" r="1.1" fill="#000"/>
<circle cx="676.8" cy="102.3" r="1.1" fill="#000"/>
<circle cx="672.6" cy="97" r="1.1" fill="#000"/>
<circle cx="566.5" cy="115" r="1.2" fill="#000"/>
<circle cx="570.6" cy="115.8" r="1.2" fill="#000"/>
<circle cx="576.2" cy="113.3" r="1.2" fill="#000"/>
<circle cx="580.5" cy="115.8" r="1.2" fill="#000"/>
<circle cx="585.2" cy="115" r="1.2" fill="#000"/>
<text x="0.5" y="182.2" font-family='"Liberation Sans", sans-serif' font-size="10.5" font-weight="bold" text-anchor="start" fill="#000" >D</text>
<line x1="28.7" y1="186.4" x2="176.8" y2="186.4" stroke="#000" stroke-width="1.3" stroke-dasharray="2.9 2.1"/>
<line x1="176.8" y1="182" x2="176.8" y2="190.7" stroke="#000" stroke-width="1.2" />
<line x1="28.2" y1="185.7" x2="28.2" y2="190.8" stroke="#000" stroke-width="1" />
<text x="99.25" y="183.3" font-family='"Liberation Sans", sans-serif' font-size="10.98" font-weight="bold" font-style="italic" fill="#1a1a1a" textLength="10.9" lengthAdjust="spacingAndGlyphs">##</text>
<line x1="27.2" y1="182.8" x2="27.2" y2="283.7" stroke="#000" stroke-width="1.8" />
<line x1="26.2" y1="282.7" x2="178.3" y2="282.7" stroke="#000" stroke-width="1.8" />
<line x1="23.4" y1="182.8" x2="27.2" y2="182.8" stroke="#000" stroke-width="1.5" />
<line x1="23.4" y1="282.7" x2="27.2" y2="282.7" stroke="#000" stroke-width="1.5" />
<text x="22" y="285" font-family='"Liberation Sans", sans-serif' font-size="8.2" font-weight="bold" text-anchor="end" fill="#000" textLength="4.11" lengthAdjust="spacingAndGlyphs">0</text>
<line x1="23.4" y1="249.4" x2="27.2" y2="249.4" stroke="#000" stroke-width="1.5" />
<text x="22" y="251.7" font-family='"Liberation Sans", sans-serif' font-size="8.2" font-weight="bold" text-anchor="end" fill="#000" textLength="8.23" lengthAdjust="spacingAndGlyphs">10</text>
<line x1="23.4" y1="216.1" x2="27.2" y2="216.1" stroke="#000" stroke-width="1.5" />
<text x="22" y="218.4" font-family='"Liberation Sans", sans-serif' font-size="8.2" font-weight="bold" text-anchor="end" fill="#000" textLength="8.23" lengthAdjust="spacingAndGlyphs">20</text>
<line x1="23.4" y1="182.8" x2="27.2" y2="182.8" stroke="#000" stroke-width="1.5" />
<text x="22" y="185.1" font-family='"Liberation Sans", sans-serif' font-size="8.2" font-weight="bold" text-anchor="end" fill="#000" textLength="8.23" lengthAdjust="spacingAndGlyphs">30</text>
<line x1="27.2" y1="282.7" x2="27.2" y2="286.8" stroke="#000" stroke-width="1.5" />
<text x="27.2" y="296" font-family='"Liberation Sans", sans-serif' font-size="8.3" font-weight="bold" text-anchor="middle" fill="#000" textLength="4.06" lengthAdjust="spacingAndGlyphs">0</text>
<line x1="64.65" y1="282.7" x2="64.65" y2="286.8" stroke="#000" stroke-width="1.5" />
<text x="64.65" y="296" font-family='"Liberation Sans", sans-serif' font-size="8.3" font-weight="bold" text-anchor="middle" fill="#000" textLength="8.12" lengthAdjust="spacingAndGlyphs">30</text>
<line x1="102.1" y1="282.7" x2="102.1" y2="286.8" stroke="#000" stroke-width="1.5" />
<text x="102.1" y="296" font-family='"Liberation Sans", sans-serif' font-size="8.3" font-weight="bold" text-anchor="middle" fill="#000" textLength="8.12" lengthAdjust="spacingAndGlyphs">60</text>
<line x1="139.55" y1="282.7" x2="139.55" y2="286.8" stroke="#000" stroke-width="1.5" />
<text x="139.55" y="296" font-family='"Liberation Sans", sans-serif' font-size="8.3" font-weight="bold" text-anchor="middle" fill="#000" textLength="8.12" lengthAdjust="spacingAndGlyphs">90</text>
<line x1="177" y1="282.7" x2="177" y2="286.8" stroke="#000" stroke-width="1.5" />
<text x="177" y="296" font-family='"Liberation Sans", sans-serif' font-size="8.3" font-weight="bold" text-anchor="middle" fill="#000" textLength="12.18" lengthAdjust="spacingAndGlyphs">120</text>
<text x="187.4" y="296" font-family='"Liberation Serif", serif' font-size="10.2" font-weight="bold" text-anchor="start" fill="#000" >min</text>
<text transform="translate(6.1,238.6) rotate(-90)" x="0" y="0" dy="0.35em" font-family='"Liberation Serif", serif' font-size="11.87" font-weight="bold" text-anchor="middle" fill="#000">OGTT(mmol/l)</text>
<polyline points="27.2,226.8 64.65,204.1 102.1,201.1 177,211.8" fill="none" stroke="#bd5450" stroke-width="1.8" stroke-linejoin="round"/>
<line x1="27.2" y1="221.4" x2="27.2" y2="233.2" stroke="#bd5450" stroke-width="1.6" />
<line x1="24.95" y1="221.4" x2="29.45" y2="221.4" stroke="#bd5450" stroke-width="1.6" />
<line x1="24.95" y1="233.2" x2="29.45" y2="233.2" stroke="#bd5450" stroke-width="1.6" />
<line x1="64.65" y1="197.6" x2="64.65" y2="211.7" stroke="#bd5450" stroke-width="1.6" />
<line x1="62.4" y1="197.6" x2="66.9" y2="197.6" stroke="#bd5450" stroke-width="1.6" />
<line x1="62.4" y1="211.7" x2="66.9" y2="211.7" stroke="#bd5450" stroke-width="1.6" />
<line x1="102.1" y1="195" x2="102.1" y2="207.1" stroke="#bd5450" stroke-width="1.6" />
<line x1="99.85" y1="195" x2="104.35" y2="195" stroke="#bd5450" stroke-width="1.6" />
<line x1="99.85" y1="207.1" x2="104.35" y2="207.1" stroke="#bd5450" stroke-width="1.6" />
<line x1="177" y1="208.2" x2="177" y2="215.9" stroke="#bd5450" stroke-width="1.6" />
<line x1="174.75" y1="208.2" x2="179.25" y2="208.2" stroke="#bd5450" stroke-width="1.6" />
<line x1="174.75" y1="215.9" x2="179.25" y2="215.9" stroke="#bd5450" stroke-width="1.6" />
<polyline points="27.2,247.8 64.65,221.2 102.1,221.8 177,236.9" fill="none" stroke="#1c885e" stroke-width="2.0" stroke-linejoin="round"/>
<line x1="27.2" y1="244.4" x2="27.2" y2="252" stroke="#1c885e" stroke-width="1.8" />
<line x1="24.95" y1="244.4" x2="29.45" y2="244.4" stroke="#1c885e" stroke-width="1.8" />
<line x1="24.95" y1="252" x2="29.45" y2="252" stroke="#1c885e" stroke-width="1.8" />
<line x1="64.65" y1="216.2" x2="64.65" y2="226.6" stroke="#1c885e" stroke-width="1.8" />
<line x1="62.4" y1="216.2" x2="66.9" y2="216.2" stroke="#1c885e" stroke-width="1.8" />
<line x1="62.4" y1="226.6" x2="66.9" y2="226.6" stroke="#1c885e" stroke-width="1.8" />
<line x1="102.1" y1="218.8" x2="102.1" y2="225.8" stroke="#1c885e" stroke-width="1.8" />
<line x1="99.85" y1="218.8" x2="104.35" y2="218.8" stroke="#1c885e" stroke-width="1.8" />
<line x1="99.85" y1="225.8" x2="104.35" y2="225.8" stroke="#1c885e" stroke-width="1.8" />
<line x1="177" y1="231.3" x2="177" y2="242.9" stroke="#1c885e" stroke-width="1.8" />
<line x1="174.75" y1="231.3" x2="179.25" y2="231.3" stroke="#1c885e" stroke-width="1.8" />
<line x1="174.75" y1="242.9" x2="179.25" y2="242.9" stroke="#1c885e" stroke-width="1.8" />
<polyline points="27.2,272 64.65,265.1 102.1,262.9 177,270.1" fill="none" stroke="#1a7cb8" stroke-width="2.0" stroke-linejoin="round"/>
<line x1="25.2" y1="272" x2="29.2" y2="272" stroke="#1a7cb8" stroke-width="2.6" />
<line x1="62.65" y1="265.1" x2="66.65" y2="265.1" stroke="#1a7cb8" stroke-width="2.6" />
<line x1="100.1" y1="262.9" x2="104.1" y2="262.9" stroke="#1a7cb8" stroke-width="2.6" />
<line x1="175" y1="270.1" x2="179" y2="270.1" stroke="#1a7cb8" stroke-width="2.6" />
<path d="M33.65,247.85L33.65,252.75M31.53,249.08L35.77,251.53M35.77,249.08L31.53,251.53M39.95,247.85L39.95,252.75M37.83,249.08L42.07,251.53M42.07,249.08L37.83,251.53" stroke="#474747" stroke-width="1.25" stroke-linecap="round" fill="none"/>
<path d="M65.3,230.25L65.3,235.15M63.18,231.47L67.42,233.92M67.42,231.47L63.18,233.92" stroke="#474747" stroke-width="1.25" stroke-linecap="round" fill="none"/>
<path d="M98.95,229.35L98.95,234.25M96.83,230.58L101.07,233.03M101.07,230.58L96.83,233.03M105.25,229.35L105.25,234.25M103.13,230.58L107.37,233.03M107.37,230.58L103.13,233.03" stroke="#474747" stroke-width="1.25" stroke-linecap="round" fill="none"/>
<path d="M174.85,246.05L174.85,250.95M172.73,247.28L176.97,249.72M176.97,247.28L172.73,249.72M181.15,246.05L181.15,250.95M179.03,247.28L183.27,249.72M183.27,247.28L179.03,249.72" stroke="#474747" stroke-width="1.25" stroke-linecap="round" fill="none"/>
<line x1="185.9" y1="176.4" x2="196.8" y2="176.4" stroke="#1a7cb8" stroke-width="1.6" />
<text x="198.1" y="179.3" font-family='"Liberation Serif", serif' font-size="8.2" font-weight="bold" text-anchor="start" fill="#000" >NC</text>
<line x1="185.9" y1="189.6" x2="196.8" y2="189.6" stroke="#bd5450" stroke-width="1.6" />
<text x="198.1" y="192.5" font-family='"Liberation Serif", serif' font-size="8.2" font-weight="bold" text-anchor="start" fill="#000" >DM</text>
<line x1="185.9" y1="202.8" x2="196.8" y2="202.8" stroke="#1c885e" stroke-width="1.6" />
<text x="198.1" y="205.7" font-family='"Liberation Serif", serif' font-size="8.2" font-weight="bold" text-anchor="start" fill="#000" >EA</text>
<text x="222.4" y="181" font-family='"Liberation Sans", sans-serif' font-size="10.5" font-weight="bold" text-anchor="start" fill="#000" >E</text>
<line x1="248.5" y1="181.5" x2="248.5" y2="285.1" stroke="#000" stroke-width="1.8" />
<line x1="247.5" y1="284.1" x2="379" y2="284.1" stroke="#000" stroke-width="1.8" />
<line x1="244.8" y1="284.1" x2="248.5" y2="284.1" stroke="#000" stroke-width="1.5" />
<text x="244" y="288.5" font-family='"Liberation Sans", sans-serif' font-size="8.6" font-weight="bold" text-anchor="end" fill="#000" textLength="4.23" lengthAdjust="spacingAndGlyphs">0</text>
<line x1="244.8" y1="249.9" x2="248.5" y2="249.9" stroke="#000" stroke-width="1.5" />
<text x="244" y="254.3" font-family='"Liberation Sans", sans-serif' font-size="8.6" font-weight="bold" text-anchor="end" fill="#000" textLength="8.45" lengthAdjust="spacingAndGlyphs">20</text>
<line x1="244.8" y1="215.7" x2="248.5" y2="215.7" stroke="#000" stroke-width="1.5" />
<text x="244" y="220.1" font-family='"Liberation Sans", sans-serif' font-size="8.6" font-weight="bold" text-anchor="end" fill="#000" textLength="8.45" lengthAdjust="spacingAndGlyphs">40</text>
<line x1="244.8" y1="181.5" x2="248.5" y2="181.5" stroke="#000" stroke-width="1.5" />
<text x="244" y="185.9" font-family='"Liberation Sans", sans-serif' font-size="8.6" font-weight="bold" text-anchor="end" fill="#000" textLength="8.45" lengthAdjust="spacingAndGlyphs">60</text>
<text transform="translate(225.7,233.2) rotate(-90)" x="0" y="0" dy="0.35em" font-family='"Liberation Serif", serif' font-size="11.6" font-weight="bold" text-anchor="middle" fill="#000">OGTT AUC</text>
<rect x="259.1" y="266" width="22.8" height="18.1" fill="#1474a3"/>
<line x1="270.5" y1="284.1" x2="270.5" y2="288.3" stroke="#000" stroke-width="1.5" />
<text x="270.5" y="298.3" font-family='"Liberation Sans", sans-serif' font-size="7.8" font-weight="bold" text-anchor="middle" fill="#000" >NC</text>
<rect x="303" y="207.3" width="22.3" height="76.8" fill="#b25450"/>
<line x1="314.15" y1="284.1" x2="314.15" y2="288.3" stroke="#000" stroke-width="1.5" />
<text x="314.15" y="298.3" font-family='"Liberation Sans", sans-serif' font-size="7.8" font-weight="bold" text-anchor="middle" fill="#000" >DM</text>
<rect x="346.2" y="228.8" width="22.5" height="55.3" fill="#187d5a"/>
<line x1="357.45" y1="284.1" x2="357.45" y2="288.3" stroke="#000" stroke-width="1.5" />
<text x="357.45" y="298.3" font-family='"Liberation Sans", sans-serif' font-size="7.8" font-weight="bold" text-anchor="middle" fill="#000" >EA</text>
<line x1="314.3" y1="202.4" x2="314.3" y2="212.3" stroke="#000" stroke-width="2.0" />
<line x1="309.05" y1="202.4" x2="319.55" y2="202.4" stroke="#000" stroke-width="2.0" />
<line x1="309.05" y1="212.3" x2="319.55" y2="212.3" stroke="#000" stroke-width="2.0" />
<line x1="357.9" y1="225.2" x2="357.9" y2="232.7" stroke="#000" stroke-width="1.8" />
<line x1="352.9" y1="225.2" x2="362.9" y2="225.2" stroke="#000" stroke-width="1.8" />
<line x1="352.9" y1="232.7" x2="362.9" y2="232.7" stroke="#000" stroke-width="1.8" />
<line x1="262" y1="266.2" x2="279" y2="266.6" stroke="#000" stroke-width="1.8" />
<line x1="275.4" y1="266" x2="275.4" y2="269.3" stroke="#000" stroke-width="1.2" />
<text x="310.45" y="185.6" font-family='"Liberation Sans", sans-serif' font-size="9.17" font-weight="bold" font-style="italic" fill="#1a1a1a" textLength="9.1" lengthAdjust="spacingAndGlyphs">##</text>
<path d="M355.8,193L355.8,197.4M353.89,194.1L357.71,196.3M357.71,194.1L353.89,196.3M361.6,193L361.6,197.4M359.69,194.1L363.51,196.3M363.51,194.1L359.69,196.3" stroke="#474747" stroke-width="1.05" stroke-linecap="round" fill="none"/>
<circle cx="309.4" cy="190.1" r="1.1" fill="#000"/>
<circle cx="309.6" cy="192.8" r="1.1" fill="#000"/>
<circle cx="314" cy="192.3" r="1.1" fill="#000"/>
<circle cx="318.5" cy="192.6" r="1.1" fill="#000"/>
<circle cx="314" cy="222.6" r="1.1" fill="#000"/>
<circle cx="309.8" cy="229.7" r="1.1" fill="#000"/>
<circle cx="318.1" cy="228.5" r="1.1" fill="#000"/>
<polygon points="357.4,207.2 356.3,209.3 358.5,209.3" fill="#000"/>
<polygon points="361.8,205.8 360.7,207.9 362.9,207.9" fill="#000"/>
<circle cx="353.4" cy="227.7" r="1.0" fill="#000"/>
<circle cx="353.7" cy="240.3" r="1.0" fill="#000"/>
<circle cx="357.9" cy="239.4" r="1.0" fill="#000"/>
<circle cx="362.1" cy="240.3" r="1.0" fill="#000"/>
<circle cx="357.4" cy="234.9" r="1.0" fill="#000"/>
<circle cx="260.6" cy="266" r="1.0" fill="#000"/>
<circle cx="264" cy="266.8" r="1.0" fill="#000"/>
<circle cx="268" cy="266.6" r="1.0" fill="#000"/>
<circle cx="272" cy="266.4" r="1.0" fill="#000"/>
<circle cx="277.5" cy="266" r="1.0" fill="#000"/>
<circle cx="281" cy="266.2" r="1.0" fill="#000"/>
<text x="384.7" y="181.2" font-family='"Liberation Sans", sans-serif' font-size="10.5" font-weight="bold" text-anchor="start" fill="#000" >F</text>
<line x1="411.9" y1="181.5" x2="411.9" y2="256.6" stroke="#000" stroke-width="1.8" />
<line x1="411.9" y1="264.6" x2="411.9" y2="284.9" stroke="#000" stroke-width="1.8" />
<line x1="408.9" y1="260.5" x2="414.1" y2="255.8" stroke="#000" stroke-width="1.5" />
<line x1="408.9" y1="266.4" x2="414.1" y2="262.4" stroke="#000" stroke-width="1.5" />
<line x1="410.9" y1="283.9" x2="540" y2="283.9" stroke="#000" stroke-width="1.8" />
<line x1="407.4" y1="181.7" x2="411.9" y2="181.7" stroke="#000" stroke-width="1.5" />
<text x="406.6" y="184.5" font-family='"Liberation Sans", sans-serif' font-size="7.9" font-weight="bold" text-anchor="end" fill="#000" >15</text>
<line x1="407.4" y1="207.5" x2="411.9" y2="207.5" stroke="#000" stroke-width="1.5" />
<text x="406.6" y="210.3" font-family='"Liberation Sans", sans-serif' font-size="7.9" font-weight="bold" text-anchor="end" fill="#000" >10</text>
<line x1="407.4" y1="234" x2="411.9" y2="234" stroke="#000" stroke-width="1.5" />
<text x="406.6" y="236.8" font-family='"Liberation Sans", sans-serif' font-size="7.9" font-weight="bold" text-anchor="end" fill="#000" >5</text>
<text x="406.4" y="267.8" font-family='"Liberation Sans", sans-serif' font-size="7.9" font-weight="bold" text-anchor="end" fill="#000" >0.5</text>
<line x1="407.4" y1="283.9" x2="411.9" y2="283.9" stroke="#000" stroke-width="1.5" />
<text x="406.4" y="286.7" font-family='"Liberation Sans", sans-serif' font-size="7.9" font-weight="bold" text-anchor="end" fill="#000" >0.0</text>
<text transform="translate(385.9,230.15) rotate(-90)" x="0" y="0" dy="0.35em" font-family='"Liberation Serif", serif' font-size="12.05" font-weight="bold" text-anchor="middle" fill="#000">Insulin(ng/ml)</text>
<rect x="422.2" y="276.9" width="21.6" height="7" fill="#1474a3"/>
<line x1="433" y1="283.9" x2="433" y2="288.1" stroke="#000" stroke-width="1.5" />
<text x="433" y="296.9" font-family='"Liberation Sans", sans-serif' font-size="8.0" font-weight="bold" text-anchor="middle" fill="#000" >NC</text>
<rect x="464.5" y="221.3" width="22.5" height="62.6" fill="#b25450"/>
<line x1="475.75" y1="283.9" x2="475.75" y2="288.1" stroke="#000" stroke-width="1.5" />
<text x="475.75" y="296.9" font-family='"Liberation Sans", sans-serif' font-size="8.0" font-weight="bold" text-anchor="middle" fill="#000" >DM</text>
<rect x="507.4" y="248.3" width="22.6" height="35.6" fill="#187d5a"/>
<line x1="518.7" y1="283.9" x2="518.7" y2="288.1" stroke="#000" stroke-width="1.5" />
<text x="518.7" y="296.9" font-family='"Liberation Sans", sans-serif' font-size="8.0" font-weight="bold" text-anchor="middle" fill="#000" >EA</text>
<rect x="464" y="257.3" width="23.5" height="8.1" fill="#fff"/>
<rect x="506.9" y="257.3" width="23.6" height="8.1" fill="#fff"/>
<line x1="476" y1="214.3" x2="476" y2="226.2" stroke="#000" stroke-width="1.9" />
<line x1="470.5" y1="214.3" x2="481.5" y2="214.3" stroke="#000" stroke-width="1.9" />
<line x1="470.5" y1="226.2" x2="481.5" y2="226.2" stroke="#000" stroke-width="1.9" />
<line x1="518.3" y1="243.8" x2="518.3" y2="251.9" stroke="#000" stroke-width="1.9" />
<line x1="512.8" y1="243.8" x2="523.8" y2="243.8" stroke="#000" stroke-width="1.9" />
<line x1="512.8" y1="251.9" x2="523.8" y2="251.9" stroke="#000" stroke-width="1.9" />
<line x1="433" y1="276.6" x2="433" y2="279.6" stroke="#000" stroke-width="1.9" />
<line x1="428" y1="276.6" x2="438" y2="276.6" stroke="#000" stroke-width="1.9" />
<line x1="428" y1="279.6" x2="438" y2="279.6" stroke="#000" stroke-width="1.9" />
<text x="471.95" y="189.4" font-family='"Liberation Sans", sans-serif' font-size="8.96" font-weight="bold" font-style="italic" fill="#1a1a1a" textLength="8.9" lengthAdjust="spacingAndGlyphs">##</text>
<path d="M516.3,214.8L516.3,219.2M514.39,215.9L518.21,218.1M518.21,215.9L514.39,218.1M522.1,214.8L522.1,219.2M520.19,215.9L524.01,218.1M524.01,215.9L520.19,218.1" stroke="#474747" stroke-width="1.05" stroke-linecap="round" fill="none"/>
<circle cx="475.4" cy="195.8" r="1.1" fill="#000"/>
<circle cx="471.4" cy="207.2" r="1.1" fill="#000"/>
<circle cx="476" cy="209.3" r="1.1" fill="#000"/>
<circle cx="475.6" cy="236.8" r="1.1" fill="#000"/>
<circle cx="475.6" cy="250" r="1.1" fill="#000"/>
<circle cx="515.3" cy="256.3" r="1.1" fill="#000"/>
<circle cx="521.4" cy="256.3" r="1.1" fill="#000"/>
<circle cx="518.4" cy="270.3" r="1.1" fill="#000"/>
<polygon points="518.7,224.8 517.6,226.9 519.8,226.9" fill="#000"/>
<polygon points="518.2,234.8 517.1,236.9 519.3,236.9" fill="#000"/>
<circle cx="426.6" cy="276.8" r="1.1" fill="#000"/>
<circle cx="426.8" cy="279.2" r="1.1" fill="#000"/>
<circle cx="430.5" cy="277.6" r="1.1" fill="#000"/>
<circle cx="433.6" cy="274.8" r="1.1" fill="#000"/>
<circle cx="436.5" cy="277.3" r="1.1" fill="#000"/>
<circle cx="439.6" cy="275.8" r="1.1" fill="#000"/>
<circle cx="439.6" cy="278.8" r="1.1" fill="#000"/>
<text x="543.6" y="183.2" font-family='"Liberation Sans", sans-serif' font-size="11.2" font-weight="bold" text-anchor="start" fill="#000" >G</text>
<line x1="573" y1="181.5" x2="573" y2="256.6" stroke="#000" stroke-width="1.8" />
<line x1="573" y1="264.6" x2="573" y2="284.9" stroke="#000" stroke-width="1.8" />
<line x1="570" y1="260.5" x2="575.2" y2="255.8" stroke="#000" stroke-width="1.5" />
<line x1="570" y1="266.4" x2="575.2" y2="262.4" stroke="#000" stroke-width="1.5" />
<line x1="572" y1="283.9" x2="704" y2="283.9" stroke="#000" stroke-width="1.8" />
<line x1="568.5" y1="181.5" x2="573" y2="181.5" stroke="#000" stroke-width="1.5" />
<text x="567.7" y="184.3" font-family='"Liberation Sans", sans-serif' font-size="7.9" font-weight="bold" text-anchor="end" fill="#000" >15</text>
<line x1="568.5" y1="206.9" x2="573" y2="206.9" stroke="#000" stroke-width="1.5" />
<text x="567.7" y="209.7" font-family='"Liberation Sans", sans-serif' font-size="7.9" font-weight="bold" text-anchor="end" fill="#000" >10</text>
<line x1="568.5" y1="232.5" x2="573" y2="232.5" stroke="#000" stroke-width="1.5" />
<text x="567.7" y="235.3" font-family='"Liberation Sans", sans-serif' font-size="7.9" font-weight="bold" text-anchor="end" fill="#000" >5</text>
<text x="567.5" y="267.8" font-family='"Liberation Sans", sans-serif' font-size="7.9" font-weight="bold" text-anchor="end" fill="#000" >0.1</text>
<line x1="568.5" y1="283.9" x2="573" y2="283.9" stroke="#000" stroke-width="1.5" />
<text x="567.5" y="286.7" font-family='"Liberation Sans", sans-serif' font-size="7.9" font-weight="bold" text-anchor="end" fill="#000" >0.0</text>
<text transform="translate(546.8,231.4) rotate(-90)" x="0" y="0" dy="0.35em" font-family='"Liberation Serif", serif' font-size="11.6" font-weight="bold" text-anchor="middle" fill="#000">HOMA-IR</text>
<rect x="583.8" y="276.4" width="22" height="7.5" fill="#1474a3"/>
<line x1="594.8" y1="283.9" x2="594.8" y2="288.1" stroke="#000" stroke-width="1.5" />
<text x="594.8" y="296.9" font-family='"Liberation Sans", sans-serif' font-size="8.0" font-weight="bold" text-anchor="middle" fill="#000" >NC</text>
<rect x="627.3" y="221.5" width="21.9" height="62.4" fill="#b25450"/>
<line x1="638.25" y1="283.9" x2="638.25" y2="288.1" stroke="#000" stroke-width="1.5" />
<text x="638.25" y="296.9" font-family='"Liberation Sans", sans-serif' font-size="8.0" font-weight="bold" text-anchor="middle" fill="#000" >DM</text>
<rect x="670.7" y="252.4" width="22.5" height="31.5" fill="#187d5a"/>
<line x1="681.95" y1="283.9" x2="681.95" y2="288.1" stroke="#000" stroke-width="1.5" />
<text x="681.95" y="296.9" font-family='"Liberation Sans", sans-serif' font-size="8.0" font-weight="bold" text-anchor="middle" fill="#000" >EA</text>
<rect x="626.8" y="257.3" width="22.9" height="8.1" fill="#fff"/>
<rect x="670.2" y="257.3" width="23.5" height="8.1" fill="#fff"/>
<line x1="638.3" y1="215.2" x2="638.3" y2="228" stroke="#000" stroke-width="1.9" />
<line x1="632.8" y1="215.2" x2="643.8" y2="215.2" stroke="#000" stroke-width="1.9" />
<line x1="632.8" y1="228" x2="643.8" y2="228" stroke="#000" stroke-width="1.9" />
<line x1="681.9" y1="250.1" x2="681.9" y2="254.9" stroke="#000" stroke-width="1.9" />
<line x1="676.55" y1="250.1" x2="687.25" y2="250.1" stroke="#000" stroke-width="1.9" />
<line x1="676.55" y1="254.9" x2="687.25" y2="254.9" stroke="#000" stroke-width="1.9" />
<line x1="595.3" y1="275.6" x2="595.3" y2="278.8" stroke="#000" stroke-width="1.9" />
<line x1="590.8" y1="275.6" x2="599.8" y2="275.6" stroke="#000" stroke-width="1.9" />
<line x1="590.8" y1="278.8" x2="599.8" y2="278.8" stroke="#000" stroke-width="1.9" />
<text x="635" y="186" font-family='"Liberation Sans", sans-serif' font-size="8.86" font-weight="bold" font-style="italic" fill="#1a1a1a" textLength="8.8" lengthAdjust="spacingAndGlyphs">##</text>
<path d="M679.4,234.5L679.4,238.9M677.49,235.6L681.31,237.8M681.31,235.6L677.49,237.8M685.2,234.5L685.2,238.9M683.29,235.6L687.11,237.8M687.11,235.6L683.29,237.8" stroke="#474747" stroke-width="1.05" stroke-linecap="round" fill="none"/>
<circle cx="638.3" cy="191.2" r="1.1" fill="#000"/>
<circle cx="638.3" cy="204.9" r="1.1" fill="#000"/>
<circle cx="634.4" cy="222.4" r="1.1" fill="#000"/>
<circle cx="638.1" cy="236" r="1.1" fill="#000"/>
<circle cx="638.1" cy="248.3" r="1.1" fill="#000"/>
<circle cx="681.8" cy="247.6" r="1.1" fill="#000"/>
<circle cx="677.7" cy="256.6" r="1.1" fill="#000"/>
<circle cx="681.8" cy="256.2" r="1.1" fill="#000"/>
<circle cx="686.3" cy="256.2" r="1.1" fill="#000"/>
<polygon points="681.8,243.4 680.7,245.5 682.9,245.5" fill="#000"/>
<circle cx="588.3" cy="279.6" r="1.1" fill="#000"/>
<circle cx="590.2" cy="275.5" r="1.1" fill="#000"/>
<circle cx="592.5" cy="273.8" r="1.1" fill="#000"/>
<circle cx="596" cy="275.4" r="1.1" fill="#000"/>
<circle cx="598.5" cy="277.6" r="1.1" fill="#000"/>
<circle cx="601.5" cy="273.5" r="1.1" fill="#000"/>
<circle cx="601.8" cy="278.3" r="1.1" fill="#000"/>
</svg>
</body></html>
